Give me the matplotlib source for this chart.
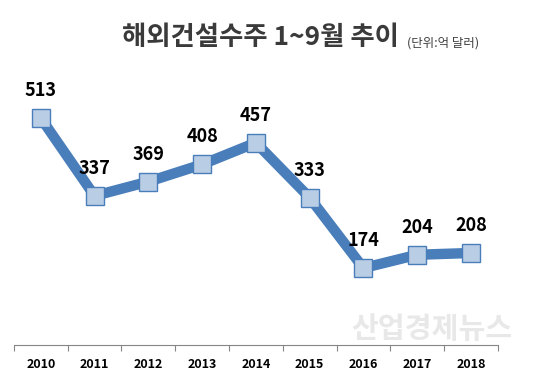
import matplotlib.pyplot as plt

plt.rcParams['font.family'] = ['Noto Sans CJK KR', 'DejaVu Sans']

# 해외건설수주 1~9월 (억 달러)
years = ['2010', '2011', '2012', '2013', '2014', '2015', '2016', '2017', '2018']
orders = [513, 337, 369, 408, 457, 333, 174, 204, 208]

fig = plt.figure(figsize=(5.33, 3.78), dpi=100)
ax = fig.add_axes([0.026, 0.087, 0.908, 0.703])

x = range(len(years))
ax.plot(x, orders, color='#4a7ebb', linewidth=7.5, solid_joinstyle='miter',
        marker='s', markersize=13, markerfacecolor='#b9cde5',
        markeredgecolor='#4a7ebb', markeredgewidth=1, zorder=3)

for i, v in enumerate(orders):
    ax.annotate(str(v), (i, v), xytext=(0, 13), textcoords='offset points',
                ha='center', va='bottom', fontsize=13, fontweight='bold',
                color='black')

ax.set_xlim(-0.5, len(years) - 0.5)
ax.set_ylim(0, 600)
for s in ['left', 'right', 'top']:
    ax.spines[s].set_visible(False)
ax.spines['bottom'].set_color('#868686')
ax.set_yticks([])
ax.set_xticks([i - 0.5 for i in range(len(years) + 1)], minor=False)
ax.set_xticklabels([''] * (len(years) + 1))
ax.tick_params(axis='x', length=4, color='#868686', direction='out')
ax.set_xticks(list(x), minor=True)
ax.set_xticklabels(years, minor=True, fontsize=9, fontweight='bold')
ax.tick_params(axis='x', which='minor', length=0, pad=9)

fig.text(0.229, 0.9, '해외건설수주 1~9월 추이', fontsize=19, fontweight='heavy',
         color='#3a3a3a', ha='left', va='center')
fig.text(0.763, 0.886, '(단위:억 달러)', fontsize=9, color='#404040',
         ha='left', va='center')

# watermark
fig.text(0.81, 0.13, '산업경제뉴스', fontsize=21, fontweight='bold',
         color='#e8e8e8', ha='center', va='center', zorder=0)

fig.savefig('out.png', dpi=100)
